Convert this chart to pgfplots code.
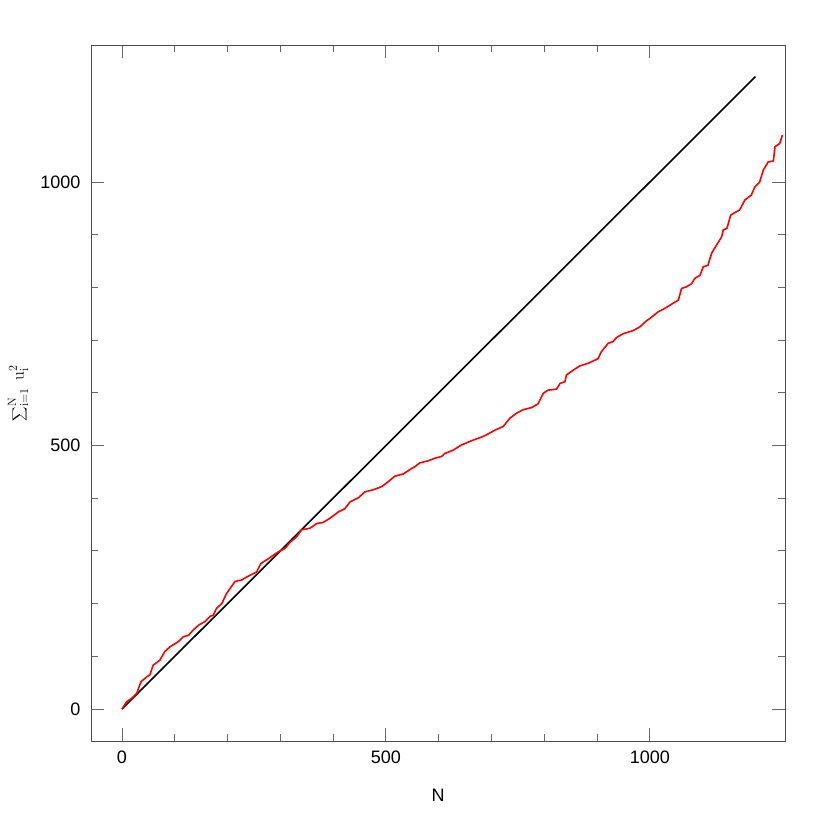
\documentclass[border=0pt]{standalone}
\usepackage{pgfplots}
\pgfplotsset{compat=1.18}
\usepackage[no-math]{fontspec}
\setmainfont{Liberation Sans}
\begin{document}
\begin{tikzpicture}
\useasboundingbox (-91pt,-89pt) rectangle (739pt,741pt);
\begin{axis}[
  at={(0,0)}, anchor=south west,
  scale only axis, width=694pt, height=696pt,
  xmin=-58.7, xmax=1256, ymin=-60.7, ymax=1260,
  xtick={0,500,1000}, ytick={0,500,1000}, minor tick num=4,
  tick align=inside, major tick length=13pt, minor tick length=7pt,
  axis line style={color=black!70, line width=0.8pt},
  every tick/.style={black!60, line width=0.9pt},
  /pgf/number format/assume math mode=true,
  /pgf/number format/set thousands separator={},
  tick label style={font=\fontsize{18}{20}\selectfont},
  xticklabel style={yshift=-6pt},
  yticklabel style={xshift=-7pt},
  label style={font=\fontsize{18}{20}\selectfont},
  xlabel={N},
  xlabel style={at={(axis description cs:0.5,-0.0776)}, anchor=center},
  ylabel={$\displaystyle\sum\nolimits_{\mathrm{i=1}}^{\mathrm{N}}\ \mathrm{u}_{\mathrm{i}}^{2}$},
  ylabel style={at={(axis description cs:-0.105,0.5)}, anchor=center},
]
\addplot[black, line width=1.6pt] coordinates {(0,0) (1200,1200)};
\addplot[red, line width=1.6pt] coordinates {
(0,0) (9,14) (18,20) (28,30) (36,52) (47,61) (53,65) (59,83) (72,93) (81,109)
(91,118) (107,128) (116,137) (126,140) (135,150) (145,159) (157,166) (167,176)
(173,178) (179,191) (189,200) (198,219) (205,229) (214,242) (227,245) (239,252)
(255,260) (263,276) (277,285) (287,292) (296,298) (309,305) (318,316) (331,327)
(340,340) (356,343) (369,352) (381,354) (394,362) (410,374) (422,380) (432,393)
(448,401) (460,412) (476,416) (492,422) (504,431) (517,442) (533,446) (545,454)
(555,460) (564,467) (580,471) (593,476) (605,479) (612,485) (627,491) (643,501)
(662,509) (681,516) (690,520) (706,529) (722,536) (735,552) (747,561) (760,568)
(776,572) (788,579) (798,599) (807,605) (823,607) (830,618) (839,621) (842,634)
(855,643) (867,651) (883,656) (896,662) (902,665) (908,678) (921,694) (930,697)
(937,705) (949,712) (968,718) (981,725) (994,737) (1000,741) (1016,754) (1028,760)
(1044,770) (1054,776) (1060,798) (1069,801) (1079,807) (1085,817) (1095,823)
(1101,839) (1110,842) (1117,865) (1126,880) (1136,896) (1139,909) (1146,912)
(1153,937) (1161,942) (1170,947) (1180,966) (1192,975) (1199,991) (1208,1000)
(1215,1023) (1224,1038) (1234,1040) (1237,1067) (1246,1073) (1251,1089)
};
\end{axis}
\end{tikzpicture}
\end{document}
